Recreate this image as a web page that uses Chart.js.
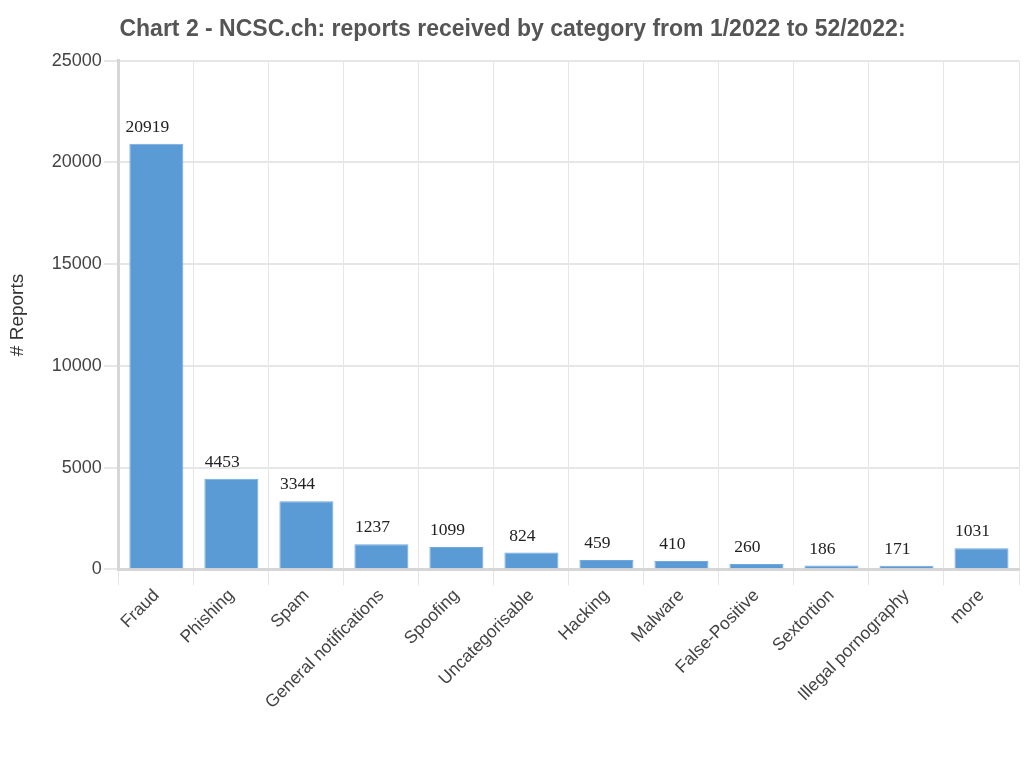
<!DOCTYPE html>
<html>
<head>
<meta charset="utf-8">
<script src="https://cdn.jsdelivr.net/npm/chart.js@4"></script>
<style>
  html, body { margin: 0; padding: 0; background: #fff; }
  #wrap { width: 1024px; height: 761px; }
</style>
</head>
<body>
<div id="wrap"><canvas id="chart" width="1024" height="761"></canvas></div>
<script>
// categories and values
const categories = [
    'Fraud', 'Phishing', 'Spam', 'General notifications', 'Spoofing',
    'Uncategorisable', 'Hacking', 'Malware', 'False-Positive', 'Sextortion',
    'Illegal pornography', 'more'
];
const reports = [20919, 4453, 3344, 1237, 1099, 824, 459, 410, 260, 186, 171, 1031];
const yTicks = [0, 5000, 10000, 15000, 20000, 25000];

// value above each bar (serif, like the original)
const valueLabels = {
    id: 'valueLabels',
    afterDatasetsDraw(chart) {
        const ctx = chart.ctx;
        const meta = chart.getDatasetMeta(0);
        ctx.save();
        ctx.font = '17.5px "Liberation Serif", "DejaVu Serif", serif';
        ctx.fillStyle = '#222';
        ctx.textAlign = 'center';
        ctx.textBaseline = 'alphabetic';
        meta.data.forEach((bar, i) => {
            ctx.fillText(String(reports[i]), bar.x - 9, bar.y - 12);
        });
        ctx.restore();
    }
};

const ctx = document.getElementById('chart').getContext('2d');
new Chart(ctx, {
    type: 'bar',
    data: {
        labels: categories,
        datasets: [{
            data: reports,
            backgroundColor: '#5b9bd5',
            borderColor: '#72a9dc',
            borderWidth: 1,
            categoryPercentage: 1,
            barPercentage: 0.72,
        }],
    },
    options: {
        responsive: false,
        animation: false,
        devicePixelRatio: 1,
        layout: { padding: { left: 6, right: 5, top: 6, bottom: 48 } },
        plugins: {
            legend: { display: false },
            tooltip: { enabled: false },
            title: {
                display: true,
                text: 'Chart 2 - NCSC.ch: reports received by category from 1/2022 to 52/2022:',
                color: '#555',
                font: { family: 'Arial, "Liberation Sans", sans-serif', size: 23, weight: 'bold' },
                padding: { top: 10, bottom: 17 },
            },
        },
        scales: {
            x: {
                grid: {
                    offset: true,
                    color: '#e6e6e6',
                    lineWidth: 1,
                    tickLength: 16,
                },
                border: { color: '#d6d6d6', width: 3 },
                ticks: {
                    color: '#444',
                    font: { family: 'Arial, "Liberation Sans", sans-serif', size: 17.5 },
                    minRotation: 45,
                    maxRotation: 45,
                    autoSkip: false,
                    padding: 0,
                },
            },
            y: {
                min: 0,
                max: 25000,
                afterBuildTicks(axis) {
                    axis.ticks = yTicks.map(v => ({ value: v }));
                },
                grid: {
                    color: '#e6e6e6',
                    lineWidth: 2,
                    tickLength: 15,
                },
                border: { color: '#d6d6d6', width: 3 },
                ticks: {
                    color: '#444',
                    font: { family: 'Arial, "Liberation Sans", sans-serif', size: 18 },
                    padding: 2,
                    callback: (v) => String(v),
                },
                title: {
                    display: true,
                    text: '# Reports',
                    color: '#333',
                    font: { family: 'Arial, "Liberation Sans", sans-serif', size: 19 },
                    padding: { top: 0, bottom: 21 },
                },
            },
        },
    },
    plugins: [valueLabels],
});
</script>
</body>
</html>
